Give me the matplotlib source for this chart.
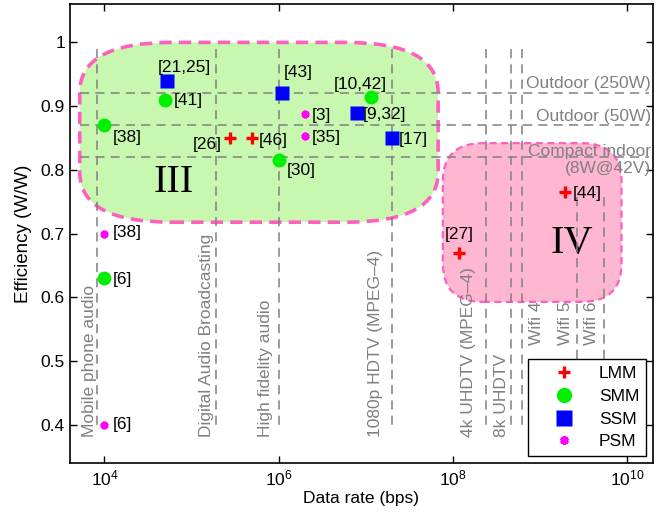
import matplotlib
matplotlib.use('Agg')
import matplotlib.pyplot as plt
from matplotlib.patches import FancyBboxPatch

plt.rcParams['font.family'] = ['Liberation Sans', 'DejaVu Sans']
plt.rcParams['mathtext.fontset'] = 'custom'
plt.rcParams['mathtext.rm'] = 'Liberation Sans'
plt.rcParams['mathtext.it'] = 'Liberation Sans'
plt.rcParams['font.size'] = 12.5

# ---- data ----
lmm_x = [2.8e5, 5e5, 1.17e8, 1.95e9]
lmm_y = [0.85, 0.85, 0.67, 0.766]
lmm_ref = ['[26]', '[46]', '[27]', '[44]']

smm_x = [1e4, 1e4, 5e4, 1e6, 1.15e7]
smm_y = [0.63, 0.87, 0.91, 0.815, 0.914]
smm_ref = ['[6]', '[38]', '[41]', '[30]', '[10,42]']

ssm_x = [5.2e4, 1.1e6, 8e6, 2e7]
ssm_y = [0.94, 0.92, 0.89, 0.85]
ssm_ref = ['[21,25]', '[43]', '[9,32]', '[17]']

psm_x = [1e4, 1e4, 2e6, 2e6]
psm_y = [0.40, 0.70, 0.887, 0.853]
psm_ref = ['[6]', '[38]', '[3]', '[35]']

# application data rates (vertical guides)
app_names = ['Mobile phone audio', 'Digital Audio Broadcasting', 'High fidelity audio',
             '1080p HDTV (MPEG\u20134)', '4k UHDTV (MPEG\u20134)', '8k UHDTV',
             'Wifi 4', 'Wifi 5', 'Wifi 6']
app_rate = [8.3e3, 1.9e5, 1e6, 2e7, 2.4e8, 4.7e8, 6.3e8, 2.7e9, 5.4e9]
app_top = [0.99, 0.99, 0.99, 0.99, 0.99, 0.99, 0.99, 0.757, 0.757]
app_label_x = [6.7e3, 1.5e5, 7e5, 1.3e7, 1.5e8, 3.6e8, 9.1e8, 2e9, 3.9e9]
app_label_y = [0.381, 0.381, 0.381, 0.381, 0.381, 0.381, 0.525, 0.525, 0.525]

# driver efficiency levels (horizontal guides)
eff_names = ['Outdoor (250W)', 'Outdoor (50W)', 'Compact indoor\n(8W@42V)']
eff_level = [0.92, 0.87, 0.82]
eff_label_y = [0.935, 0.884, 0.816]

# regions
region_names = ['III', 'IV']
region_x = [[5.2e3, 6.8e7], [7.7e7, 8.7e9]]
region_y = [[0.718, 1.0], [0.593, 0.842]]
region_label_x = [6.3e4, 2.35e9]
region_label_y = [0.78, 0.685]

fig = plt.figure(figsize=(6.65, 5.21), dpi=100)
ax = fig.add_axes([0.105, 0.111, 0.877, 0.881])
ax.set_xscale('log')
ax.set_xlim(4e3, 2e10)
ax.set_ylim(0.34, 1.06)

# regions as rounded boxes (drawn in axes fraction, corner radii in pixels)
W = 0.877 * 665
H = 0.881 * 521
reg_style = [dict(fc='#c8f8b0', ec='#ff5fbf', lw=2.6, ls=(0, (3.4, 2.0)), rx=92, ry=50),
             dict(fc='#ffb6d0', ec='#ff5fbf', lw=1.6, ls=(0, (3.2, 2.0)), rx=40, ry=38)]
to_axes = ax.transData + ax.transAxes.inverted()
for xs, ys, st in zip(region_x, region_y, reg_style):
    (x0, y0) = to_axes.transform((xs[0], ys[0]))
    (x1, y1) = to_axes.transform((xs[1], ys[1]))
    r = st['rx'] / W
    asp = (st['ry'] / H) / r
    p = FancyBboxPatch((x0, y0), x1 - x0, y1 - y0,
                       boxstyle='round,pad=0,rounding_size=%f' % r,
                       mutation_aspect=asp, transform=ax.transAxes,
                       facecolor=st['fc'], edgecolor=st['ec'], linewidth=st['lw'],
                       linestyle=st['ls'], zorder=1)
    ax.add_patch(p)

for name, lx, ly in zip(region_names, region_label_x, region_label_y):
    ax.text(lx, ly, name, fontsize=29, family='Liberation Serif', ha='center', va='center', zorder=2)

gray = '#808080'
dash = (0, (6, 4))
for rate, top in zip(app_rate, app_top):
    ax.plot([rate, rate], [top, 0.40], color=gray, lw=1.1, ls=dash, zorder=2)
for name, lx, ly in zip(app_names, app_label_x, app_label_y):
    ax.text(lx, ly, name, rotation=90, ha='center', va='bottom', color=gray, zorder=2)

for lvl in eff_level:
    ax.plot([5.2e3, 1.8e10], [lvl, lvl], color=gray, lw=1.1, ls=dash, zorder=2)
for name, ly in zip(eff_names, eff_label_y):
    ax.text(1.88e10, ly, name, ha='right', va='center', multialignment='right', color=gray, zorder=2)

# markers
h1, = ax.plot(lmm_x, lmm_y, ls='none', marker='+', ms=8, mew=2.4, color='red', zorder=4, label='LMM')
h2, = ax.plot(smm_x, smm_y, ls='none', marker='o', ms=10, mec='none', color='#00ee00', zorder=4, label='SMM')
h3, = ax.plot(ssm_x, ssm_y, ls='none', marker='s', ms=10, mec='none', color='#0000ff', zorder=4, label='SSM')
h4, = ax.plot(psm_x, psm_y, ls='none', marker=(6, 2, 0), ms=5.5, mew=2.3, color='#ff00ff', zorder=4, label='PSM')

# reference labels: offsets in pixels (dx, dy, ha)
lmm_off = [(-9, -6, 'right'), (6, -2, 'left'), (1, 18, 'center'), (8, -2, 'left')]
smm_off = [(8, -1, 'left'), (8, -12, 'left'), (8, -1, 'left'), (8, -10, 'left'), (-11, 13, 'center')]
ssm_off = [(-9, 13, 'left'), (2, 21, 'left'), (6, -2, 'left'), (7, -1, 'left')]
psm_off = [(8, 0, 'left'), (8, 1, 'left'), (7, -1, 'left'), (7, -1, 'left')]
for xs, ys, refs, offs in [(lmm_x, lmm_y, lmm_ref, lmm_off), (smm_x, smm_y, smm_ref, smm_off),
                           (ssm_x, ssm_y, ssm_ref, ssm_off), (psm_x, psm_y, psm_ref, psm_off)]:
    for x, y, ref, (dx, dy, ha) in zip(xs, ys, refs, offs):
        ax.annotate(ref, (x, y), xytext=(dx * 0.72, dy * 0.72), textcoords='offset points',
                    ha=ha, va='center', zorder=5)

ax.set_xticks([1e4, 1e6, 1e8, 1e10])
ax.minorticks_off()
ax.set_yticks([0.4, 0.5, 0.6, 0.7, 0.8, 0.9, 1.0])
ax.set_yticklabels(['0.4', '0.5', '0.6', '0.7', '0.8', '0.9', '1'])
ax.tick_params(direction='in', length=5, width=1, top=True, right=True, labelsize=12.5)
for s in ax.spines.values():
    s.set_linewidth(1.2)
ax.set_xlabel('Data rate (bps)', fontsize=12.5, labelpad=2)
ax.set_ylabel('Efficiency (W/W)', fontsize=13.5, labelpad=6)

leg = ax.legend(handles=[h1, h2, h3, h4], loc='lower right', fancybox=False, framealpha=1,
                edgecolor='black', handlelength=3.4, handletextpad=0.3, borderpad=0.4,
                labelspacing=0.43, borderaxespad=0.4, fontsize=12.5, markerscale=1.1)
leg.get_frame().set_linewidth(1.0)
leg.set_zorder(10)

fig.savefig('out.png', dpi=100)
